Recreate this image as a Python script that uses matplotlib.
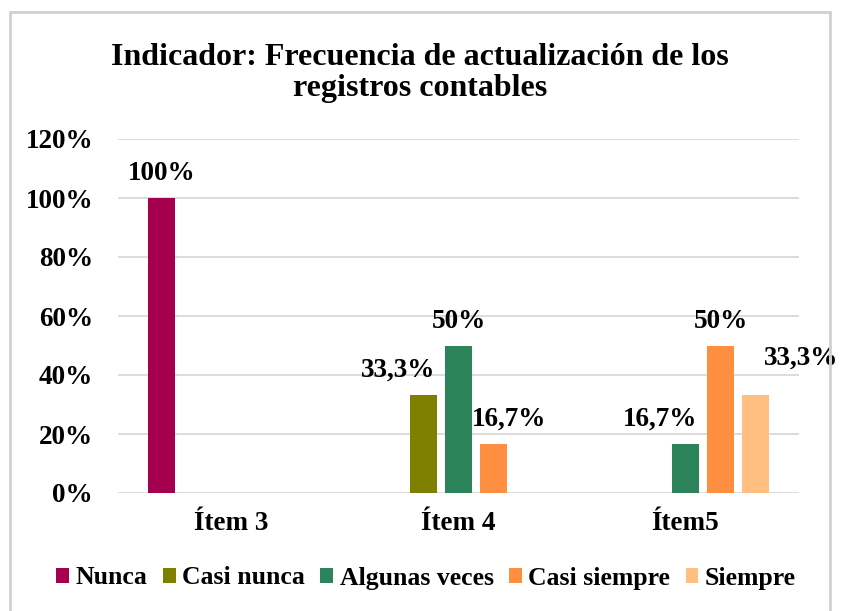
import matplotlib
matplotlib.use("Agg")
import matplotlib.pyplot as plt
from matplotlib.patches import Rectangle
import numpy as np

categories = ["Ítem 3", "Ítem 4", "Ítem5"]
series_names = ["Nunca", "Casi nunca", "Algunas veces", "Casi siempre", "Siempre"]
nunca = [1.00, 0.0, 0.0]
casi_nunca = [0.0, 0.333, 0.0]
algunas_veces = [0.0, 0.50, 0.167]
casi_siempre = [0.0, 0.167, 0.50]
siempre = [0.0, 0.0, 0.333]
labels_nunca = ["100%", "", ""]
labels_casi_nunca = ["", "33,3%", ""]
labels_algunas = ["", "50%", "16,7%"]
labels_casi_siempre = ["", "16,7%", "50%"]
labels_siempre = ["", "", "33,3%"]
yticks = [0, 0.2, 0.4, 0.6, 0.8, 1.0, 1.2]
ytick_labels = ["0%", "20%", "40%", "60%", "80%", "100%", "120%"]
title = "Indicador: Frecuencia de actualización de los\nregistros contables"

values = [nunca, casi_nunca, algunas_veces, casi_siempre, siempre]
labels = [labels_nunca, labels_casi_nunca, labels_algunas, labels_casi_siempre, labels_siempre]
colors = ["#A50050", "#7F7F00", "#2E845A", "#FF8F40", "#FFBF80"]
# label nudges (pixels) to mimic the reference label placement
label_nudge = {(1, 1): (-25, 0), (3, 1): (16, 0), (2, 2): (-25, 0), (4, 2): (46, 12)}

plt.rcParams["font.family"] = ["Liberation Serif", "DejaVu Serif"]
plt.rcParams["font.weight"] = "bold"

fig = plt.figure(figsize=(8.41, 6.11), dpi=100)
ax = fig.add_axes([118/841, 1-493/611, (799-118)/841, (493-139)/611])

fig.patches.append(Rectangle((10/841, -0.01), (830-10)/841, 1-12/611+0.01,
                             transform=fig.transFigure, fill=False,
                             edgecolor="#D0D0D0", linewidth=2))

x = np.arange(len(categories))
step = 0.154
width = 0.119
px = 72/100
for i, (vals, labs, col, name) in enumerate(zip(values, labels, colors, series_names)):
    off = (i - 2) * step
    bars = ax.bar(x + off, vals, width=width, color=col, label=name, zorder=3)
    for j, (b, lab) in enumerate(zip(bars, labs)):
        if lab:
            dx, dy = label_nudge.get((i, j), (0, 0))
            ax.annotate(lab, (b.get_x() + b.get_width()/2, b.get_height()),
                        xytext=(dx*px, (12+dy)*px), textcoords="offset points",
                        ha="center", va="bottom", fontsize=19.5, fontweight="bold")

ax.set_xlim(-0.5, 2.5)
ax.set_ylim(0, 1.2)
ax.set_yticks(yticks)
ax.set_yticklabels(ytick_labels, fontsize=19.5, fontweight="bold")
ax.set_xticks(x)
ax.set_xticklabels(categories, fontsize=19.5, fontweight="bold")
ax.tick_params(axis="y", length=0, pad=18)
ax.tick_params(axis="x", length=0, pad=13)
ax.grid(axis="y", color="#D9D9D9", linewidth=1.3, zorder=0)
for s in ax.spines.values():
    s.set_visible(False)

fig.text(420/841, 1-73/611, title, ha="center", va="center", fontsize=23,
         fontweight="bold", linespacing=1.12)

fig.legend(loc="center", bbox_to_anchor=(426/841, 1-578/611), ncol=5, frameon=False,
           prop={"size": 18.5, "weight": "bold"}, handlelength=0.5, handleheight=0.5,
           handletextpad=0.25, columnspacing=0.6)

fig.savefig("out.png", dpi=100)
